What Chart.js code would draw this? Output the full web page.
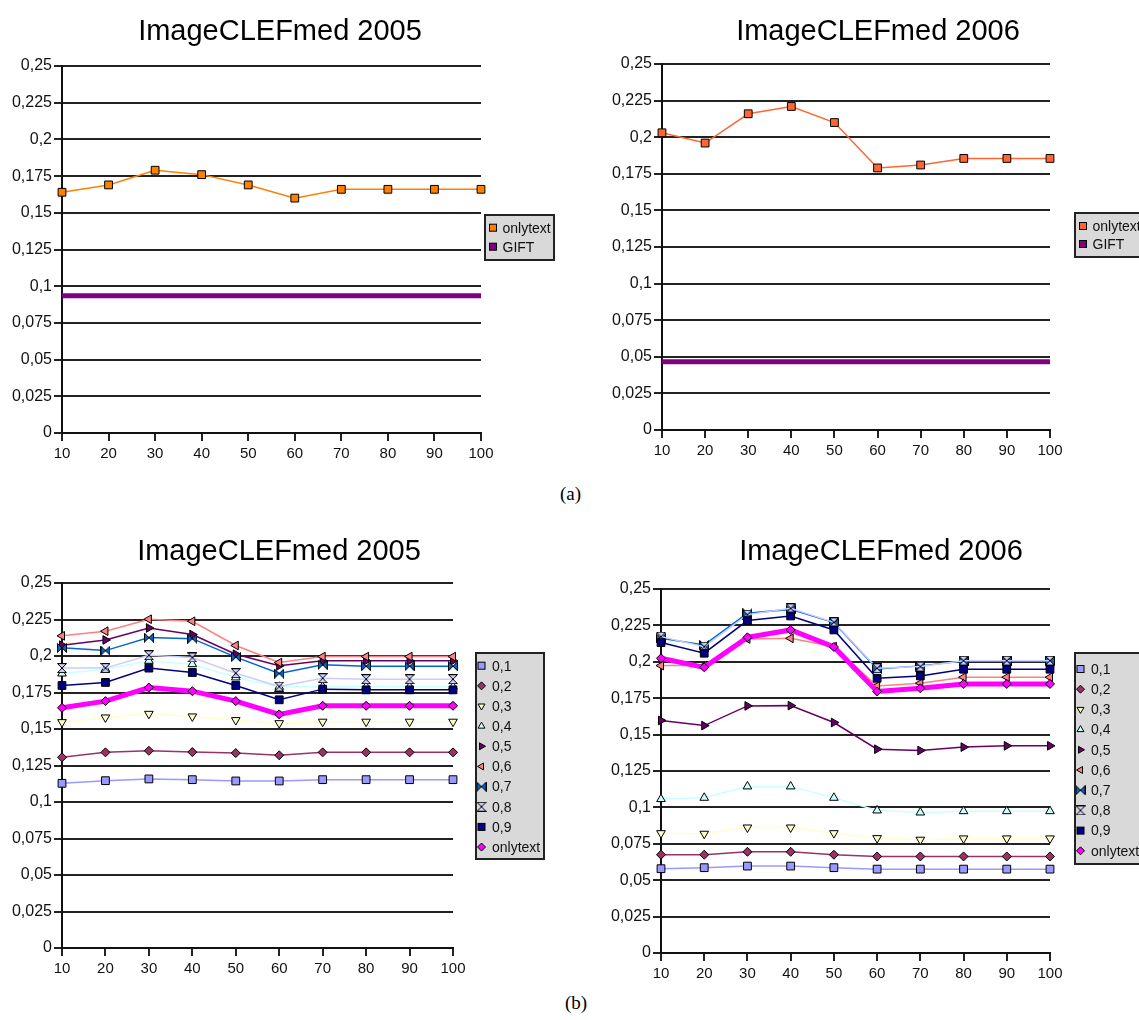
<!DOCTYPE html>
<html>
<head>
<meta charset="utf-8">
<title>ImageCLEFmed 2005 / 2006</title>
<script src="https://cdn.jsdelivr.net/npm/chart.js"></script>
<style>
    html, body { margin: 0; padding: 0; background: #fff; overflow: hidden; }
    #page { position: relative; width: 1139px; height: 1020px; overflow: hidden; }
    canvas { position: absolute; }
    .cap { position: absolute; font-family: "Liberation Serif", "Times New Roman", serif; font-size: 19px; line-height: 22px; color: #000; }
</style>
</head>
<body>
<div id="page">
    <canvas id="chart2005a" width="560" height="480" style="left:0px;top:0px"></canvas>
    <canvas id="chart2006a" width="536" height="480" style="left:610px;top:0px"></canvas>
    <canvas id="chart2005b" width="558" height="475" style="left:0px;top:520px"></canvas>
    <canvas id="chart2006b" width="546" height="480" style="left:608px;top:520px"></canvas>
    <div class="cap" style="left:560px;top:483px">(a)</div>
    <div class="cap" style="left:565px;top:992px">(b)</div>
</div>
<script>
// ===== DATOS =====
const xLabels = ['10', '20', '30', '40', '50', '60', '70', '80', '90', '100'];
const yTickLabels = ['0', '0,025', '0,05', '0,075', '0,1', '0,125', '0,15', '0,175', '0,2', '0,225', '0,25'];

// (a) solo texto vs GIFT
const onlytext2005 = [0.164, 0.169, 0.179, 0.176, 0.169, 0.160, 0.166, 0.166, 0.166, 0.166];
const gift2005 = [0.0935, 0.0935, 0.0935, 0.0935, 0.0935, 0.0935, 0.0935, 0.0935, 0.0935, 0.0935];
const onlytext2006 = [0.203, 0.196, 0.216, 0.221, 0.210, 0.179, 0.181, 0.1855, 0.1855, 0.1855];
const gift2006 = [0.0466, 0.0466, 0.0466, 0.0466, 0.0466, 0.0466, 0.0466, 0.0466, 0.0466, 0.0466];

// (b) pesos de combinacion
const weightNames = ['0,1', '0,2', '0,3', '0,4', '0,5', '0,6', '0,7', '0,8', '0,9', 'onlytext'];

const w01_2005 = [0.1128, 0.1146, 0.1158, 0.1153, 0.1144, 0.1144, 0.1153, 0.1153, 0.1153, 0.1153];
const w02_2005 = [0.1306, 0.1340, 0.1351, 0.1342, 0.1335, 0.1320, 0.1340, 0.1340, 0.1340, 0.1340];
const w03_2005 = [0.1547, 0.1579, 0.1604, 0.1586, 0.1561, 0.1540, 0.1550, 0.1550, 0.1550, 0.1550];
const w04_2005 = [0.1880, 0.1910, 0.1967, 0.1944, 0.1853, 0.1789, 0.1790, 0.1790, 0.1790, 0.1790];
const w05_2005 = [0.2074, 0.2110, 0.2192, 0.2147, 0.2012, 0.1933, 0.1967, 0.1967, 0.1967, 0.1967];
const w06_2005 = [0.2138, 0.2170, 0.2252, 0.2238, 0.2072, 0.1955, 0.1996, 0.1996, 0.1996, 0.1996];
const w07_2005 = [0.2056, 0.2037, 0.2126, 0.2119, 0.1992, 0.1880, 0.1940, 0.1930, 0.1930, 0.1930];
const w08_2005 = [0.1917, 0.1917, 0.2005, 0.1990, 0.1882, 0.1791, 0.1848, 0.1841, 0.1841, 0.1841];
const w09_2005 = [0.1798, 0.1819, 0.1917, 0.1887, 0.1798, 0.1700, 0.1773, 0.1768, 0.1768, 0.1768];
const only_2005 = [0.1645, 0.1691, 0.1784, 0.1759, 0.1691, 0.1600, 0.1659, 0.1659, 0.1659, 0.1659];

const w01_2006 = [0.0579, 0.0586, 0.0597, 0.0597, 0.0586, 0.0576, 0.0576, 0.0576, 0.0576, 0.0576];
const w02_2006 = [0.0675, 0.0675, 0.0695, 0.0695, 0.0675, 0.0663, 0.0663, 0.0663, 0.0663, 0.0663];
const w03_2006 = [0.0823, 0.0819, 0.0862, 0.0862, 0.0823, 0.0789, 0.0778, 0.0787, 0.0787, 0.0787];
const w04_2006 = [0.1057, 0.1066, 0.1144, 0.1144, 0.1066, 0.0979, 0.0965, 0.0974, 0.0974, 0.0974];
const w05_2006 = [0.1597, 0.1562, 0.1697, 0.1699, 0.1583, 0.1400, 0.1391, 0.1414, 0.1423, 0.1423];
const w06_2006 = [0.1974, 0.1974, 0.2157, 0.2161, 0.2104, 0.1834, 0.1853, 0.1894, 0.1894, 0.1894];
const w07_2006 = [0.2161, 0.2116, 0.2333, 0.2360, 0.2269, 0.1951, 0.1972, 0.2006, 0.2006, 0.2006];
const w08_2006 = [0.2173, 0.2104, 0.2324, 0.2367, 0.2271, 0.1956, 0.1967, 0.2008, 0.2008, 0.2008];
const w09_2006 = [0.2132, 0.2059, 0.2283, 0.2315, 0.2219, 0.1887, 0.1903, 0.1949, 0.1949, 0.1949];
const only_2006 = [0.2024, 0.1962, 0.2168, 0.2219, 0.2102, 0.1796, 0.1818, 0.1848, 0.1848, 0.1848];

// ===== ESTILOS =====
const weightColors = ['#9999ff', '#993366', '#ffffcc', '#ccffff', '#660066', '#ff8080', '#0066cc', '#ccccff', '#000080', '#ff00ff'];
const weightMarkers = ['rect', 'rectRot', 'triDown', 'triUp', 'triRight', 'triLeft', 'bowtie', 'hourglass', 'rect', 'rectRot'];

Chart.defaults.font.family = '"Liberation Sans", Arial, sans-serif';
Chart.defaults.color = '#111';

function shapeCanvas(kind, fill) {
    const c = document.createElement('canvas');
    c.width = 10;
    c.height = 10;
    const g = c.getContext('2d');
    g.fillStyle = fill;
    g.strokeStyle = '#000';
    g.lineWidth = 1;
    g.beginPath();
    if (kind === 'bowtie') {
        g.moveTo(0.5, 0.5); g.lineTo(5, 5); g.lineTo(0.5, 9.5); g.closePath();
        g.moveTo(9.5, 0.5); g.lineTo(5, 5); g.lineTo(9.5, 9.5); g.closePath();
    } else {
        g.moveTo(0.5, 0.5); g.lineTo(9.5, 0.5); g.lineTo(5, 5); g.closePath();
        g.moveTo(0.5, 9.5); g.lineTo(9.5, 9.5); g.lineTo(5, 5); g.closePath();
    }
    g.fill();
    g.stroke();
    return c;
}

function markerOpts(kind, fill) {
    switch (kind) {
        case 'rect': return { style: 'rect', rot: 0, r: 5.5 };
        case 'rectRot': return { style: 'rectRot', rot: 0, r: 4.5 };
        case 'triDown': return { style: 'triangle', rot: 180, r: 5 };
        case 'triUp': return { style: 'triangle', rot: 0, r: 5 };
        case 'triRight': return { style: 'triangle', rot: 90, r: 5 };
        case 'triLeft': return { style: 'triangle', rot: -90, r: 5 };
        default: return { style: shapeCanvas(kind, fill), rot: 0, r: 5 };
    }
}

function weightSets(seriesList) {
    return seriesList.map((data, i) => {
        const m = markerOpts(weightMarkers[i], weightColors[i]);
        const isText = weightNames[i] === 'onlytext';
        return {
            label: weightNames[i],
            data: data,
            borderColor: weightColors[i],
            backgroundColor: weightColors[i],
            borderWidth: isText ? 5 : 1.5,
            pointStyle: m.style,
            rotation: m.rot,
            pointRadius: m.r,
            pointBackgroundColor: weightColors[i],
            pointBorderColor: '#000',
            pointBorderWidth: 1,
            tension: 0,
            clip: false,
            order: seriesList.length - i
        };
    });
}

function textGiftSets(textData, textColor, giftData) {
    return [
        {
            label: 'onlytext', data: textData, borderColor: textColor, backgroundColor: textColor,
            borderWidth: 1.5, pointStyle: 'rect', pointRadius: 5.5, pointBackgroundColor: textColor,
            pointBorderColor: '#000', pointBorderWidth: 1, tension: 0, clip: false, order: 2
        },
        {
            label: 'GIFT', data: giftData, borderColor: '#800080', backgroundColor: '#800080',
            borderWidth: 5, pointRadius: 0, tension: 0, clip: false, order: 1
        }
    ];
}

// ===== LEYENDA CON CAJA GRIS =====
const boxLegend = {
    id: 'boxLegend',
    afterDraw(chart, args, opts) {
        const ctx = chart.ctx;
        ctx.save();
        ctx.fillStyle = '#d9d9d9';
        ctx.fillRect(opts.x, opts.y, opts.w, opts.h);
        ctx.strokeStyle = '#222';
        ctx.lineWidth = 2;
        ctx.strokeRect(opts.x, opts.y, opts.w, opts.h);
        ctx.font = opts.fontSize + 'px "Liberation Sans", Arial, sans-serif';
        ctx.textBaseline = 'middle';
        ctx.textAlign = 'left';
        chart.data.datasets.forEach((ds, i) => {
            const cy = opts.y + opts.first + i * opts.row;
            const cx = opts.x + opts.markX;
            ctx.fillStyle = ds.pointRadius ? ds.pointBackgroundColor : ds.borderColor;
            ctx.strokeStyle = '#000';
            ctx.lineWidth = 1;
            if (!ds.pointRadius || ds.pointStyle === 'rect' || !Chart.helpers || !Chart.helpers.drawPoint) {
                ctx.fillRect(cx - 3.5, cy - 3.5, 7, 7);
                ctx.strokeRect(cx - 3.5, cy - 3.5, 7, 7);
            } else {
                Chart.helpers.drawPoint(ctx, {
                    pointStyle: ds.pointStyle, rotation: ds.rotation || 0,
                    radius: opts.markR, borderWidth: 1
                }, cx, cy);
            }
            ctx.fillStyle = '#111';
            ctx.fillText(ds.label, opts.x + opts.textX, cy + 1);
        });
        ctx.restore();
    }
};

function makeChart(id, title, datasets, lay) {
    return new Chart(document.getElementById(id), {
        type: 'line',
        data: { labels: xLabels, datasets: datasets },
        options: {
            responsive: false,
            animation: false,
            layout: { padding: { left: 0, top: 0, right: 0, bottom: lay.padBottom } },
            plugins: {
                legend: { display: false },
                tooltip: { enabled: false },
                title: {
                    display: true, text: title, color: '#000',
                    font: { size: 29, weight: 'normal' },
                    padding: { top: lay.titleTop, bottom: lay.titleBottom }
                },
                boxLegend: lay.legend
            },
            scales: {
                x: {
                    offset: false,
                    grid: { drawOnChartArea: false, drawTicks: true, tickLength: 8, color: '#222', lineWidth: 2 },
                    border: { display: true, color: '#111', width: 2 },
                    ticks: { color: '#111', font: { size: 15 }, padding: 4, maxRotation: 0, autoSkip: false },
                    afterFit: s => { s.height = 40; }
                },
                y: {
                    min: 0,
                    max: 0.25,
                    grid: { color: '#222', lineWidth: 2, tickLength: 8 },
                    border: { display: true, color: '#111', width: 2 },
                    ticks: {
                        stepSize: 0.025, color: '#111', font: { size: 16 }, padding: 2,
                        callback: (v, i) => yTickLabels[i]
                    },
                    afterFit: s => { s.width = lay.axisWidth; }
                },
                // espacio reservado a la derecha para la leyenda
                side: {
                    position: 'right',
                    min: 0,
                    max: 0.25,
                    grid: { display: false },
                    border: { display: false },
                    ticks: { display: false },
                    afterFit: s => { s.width = lay.padRight; }
                }
            }
        },
        plugins: [boxLegend]
    });
}

document.addEventListener("DOMContentLoaded", function () {

    makeChart('chart2005a', 'ImageCLEFmed 2005', textGiftSets(onlytext2005, '#ff7f00', gift2005), {
        padRight: 79, padBottom: 7, titleTop: 14.6, titleBottom: 16.6, axisWidth: 62,
        legend: { x: 485, y: 215, w: 69, h: 45, first: 12.7, row: 19, markX: 8, textX: 17.5, markR: 4, fontSize: 14 }
    });

    makeChart('chart2006a', 'ImageCLEFmed 2006', textGiftSets(onlytext2006, '#ff6633', gift2006), {
        padRight: 96, padBottom: 10, titleTop: 14.6, titleBottom: 14.6, axisWidth: 52,
        legend: { x: 465, y: 213, w: 80, h: 44, first: 13, row: 18, markX: 8, textX: 17.5, markR: 4, fontSize: 14 }
    });

    makeChart('chart2005b', 'ImageCLEFmed 2005', weightSets([
        w01_2005, w02_2005, w03_2005, w04_2005, w05_2005, w06_2005, w07_2005, w08_2005, w09_2005, only_2005
    ]), {
        padRight: 105, padBottom: 7, titleTop: 14.6, titleBottom: 13.6, axisWidth: 62,
        legend: { x: 476, y: 133, w: 68, h: 206, first: 12.7, row: 20.15, markX: 5.5, textX: 16, markR: 4, fontSize: 14 }
    });

    makeChart('chart2006b', 'ImageCLEFmed 2006', weightSets([
        w01_2006, w02_2006, w03_2006, w04_2006, w05_2006, w06_2006, w07_2006, w08_2006, w09_2006, only_2006
    ]), {
        padRight: 104, padBottom: 7, titleTop: 14.6, titleBottom: 19.6, axisWidth: 53,
        legend: { x: 467, y: 133, w: 90, h: 211, first: 16, row: 20.2, markX: 5.5, textX: 16, markR: 4, fontSize: 14 }
    });

});
</script>
</body>
</html>
